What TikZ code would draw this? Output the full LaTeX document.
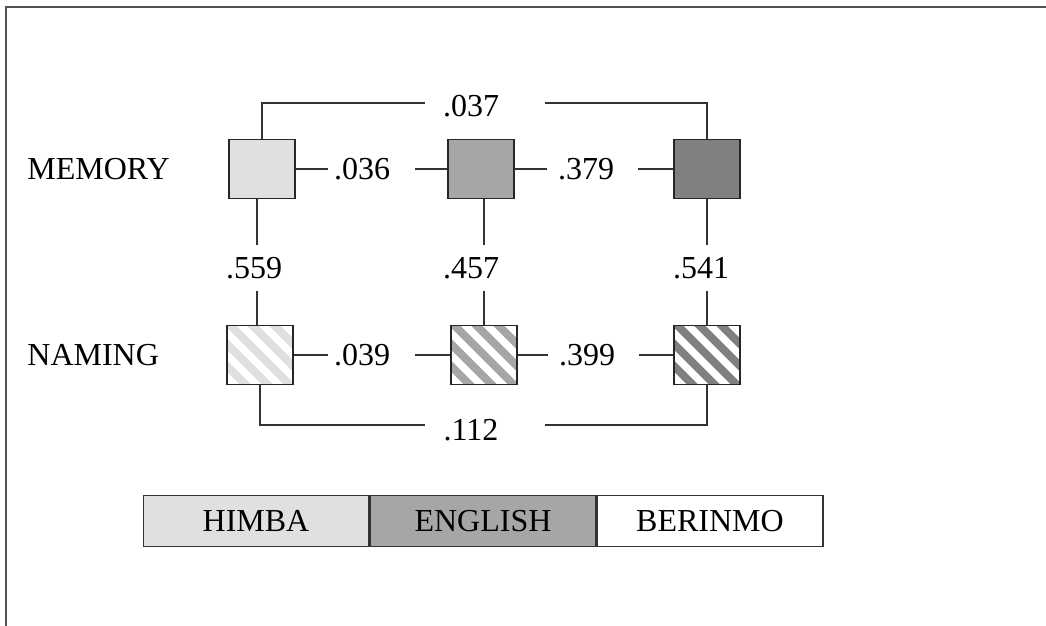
\documentclass[tikz,border=0pt]{standalone}
\usepackage{fontspec}
\setmainfont{Liberation Serif}
\usetikzlibrary{positioning,calc}
\definecolor{himbagray}{HTML}{E0E0E0}
\definecolor{englishgray}{HTML}{A6A6A6}
\definecolor{berinmogray}{HTML}{808080}
\definecolor{linegray}{HTML}{333333}
\begin{document}
\begin{tikzpicture}[x=0.5pt, y=-0.5pt,
    font=\fontsize{16}{19}\selectfont,
    box/.style={draw=black!85, line width=0.9pt, minimum width=33pt, minimum height=29.5pt, inner sep=0pt},
    hatched/.style={path picture={
        \foreach \k in {-5,...,5}
          \draw[#1, line width=4pt] ($(path picture bounding box.center)+(22*\k-60,-60)$) -- ++(120,120);
      }},
    conn/.style={draw=linegray, line width=0.7pt},
    val/.style={inner sep=0pt},
    gap/.style={fill=white, inner xsep=2pt, inner ysep=6pt},
    key/.style={draw=black!80, line width=0.8pt, minimum width=112.7pt, minimum height=25.5pt, inner sep=0pt}]

    \useasboundingbox (0,0) rectangle (1046,626);
    % frame
    \draw[linegray!85, line width=1pt] (6,626) -- (6,7) -- (1046,7);

    % Rows
    \node[val, anchor=west] (memory) at (27,169) {MEMORY};
    \node[val, anchor=west] (naming) at (27,355) {NAMING};

    % Boxes
    \node[box, fill=himbagray]   (m1) at (262,169) {};
    \node[box, fill=englishgray] (m2) at (481,169) {};
    \node[box, fill=berinmogray] (m3) at (707,169) {};
    \node[box, hatched=himbagray]   (n1) at (260,355) {};
    \node[box, hatched=englishgray] (n2) at (484,355) {};
    \node[box, hatched=berinmogray] (n3) at (707,355) {};

    % Memory row
    \node[val] (l036) at (362,169) {.036};
    \node[val] (l379) at (586,169) {.379};
    \draw[conn] (m1.east) -- ($(l036.west)+(-6,0)$);
    \draw[conn] ($(l036.east)+(25,0)$) -- (m2.west);
    \draw[conn] (m2.east) -- ($(l379.west)+(-11,0)$);
    \draw[conn] ($(l379.east)+(24,0)$) -- (m3.west);

    % Naming row
    \node[val] (l039) at (362,355) {.039};
    \node[val] (l399) at (587,355) {.399};
    \draw[conn] (n1.east) -- ($(l039.west)+(-6,0)$);
    \draw[conn] ($(l039.east)+(25,0)$) -- (n2.west);
    \draw[conn] (n2.east) -- ($(l399.west)+(-11,0)$);
    \draw[conn] ($(l399.east)+(24,0)$) -- (n3.west);

    % Memory to naming
    \draw[conn] ($(m1.south)+(-5,0)$) -- ($(n1.north)+(-3,0)$);
    \draw[conn] ($(m2.south)+(3,0)$) -- (n2.north);
    \draw[conn] (m3.south) -- (n3.north);
    \node[val, gap] (l559) at (254,268) {.559};
    \node[val, gap] (l457) at (471,268) {.457};
    \node[val, gap] (l541) at (701,268) {.541};

    % Brackets
    \node[val] (l037) at (471,106) {.037};
    \draw[conn] (m1.north) |- ($(l037.west)+(-18,-3)$);
    \draw[conn] ($(l037.east)+(46,-3)$) -| (m3.north);
    \node[val] (l112) at (471,430) {.112};
    \draw[conn] (n1.south) |- ($(l112.west)+(-18,-5)$);
    \draw[conn] ($(l112.east)+(46,-5)$) -| (n3.south);

    % Legend
    \node[key, fill=himbagray] (himba) at (256,521) {HIMBA};
    \node[key, fill=englishgray, right=0pt of himba] (english) {ENGLISH};
    \node[key, fill=white, right=0pt of english] (berinmo) {BERINMO};
\end{tikzpicture}
\end{document}
